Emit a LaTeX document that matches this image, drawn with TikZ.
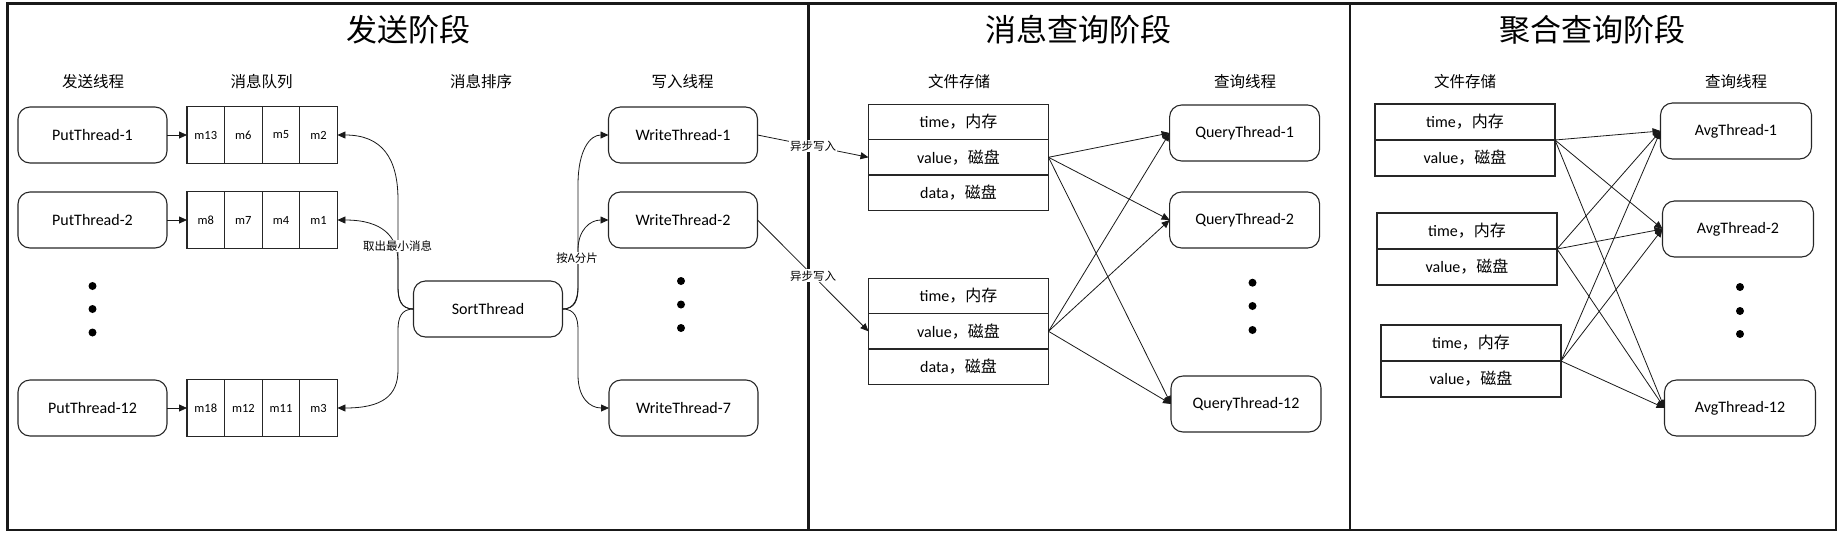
\documentclass[tikz,border=0pt]{standalone}
\usepackage{fontspec}
\setmainfont{Carlito}
\newfontfamily\cjkf{Noto Sans CJK SC}
\newcommand\zh[1]{{\cjkf #1}}
\usetikzlibrary{arrows.meta}
\begin{document}
\begin{tikzpicture}[x=1pt,y=-1pt,
  thread/.style={draw=black!85, line width=1.1pt, rounded corners=12pt, minimum width=149pt, minimum height=56pt, inner sep=0pt, outer sep=0pt, font=\fontsize{16}{19}\selectfont},
  cell/.style={draw=black!85, line width=1.1pt, minimum width=37.6pt, minimum height=56.5pt, inner sep=0pt, outer sep=0pt, font=\fontsize{12.5}{15}\selectfont},
  row/.style={draw=black!85, line width=1.1pt, minimum width=180pt, minimum height=35.3pt, inner sep=0pt, outer sep=0pt, font=\fontsize{16}{19}\selectfont},
  hdr/.style={font=\cjkf\fontsize{15.5}{18}\selectfont, inner sep=0pt},
  ttl/.style={font=\cjkf\fontsize{31}{36}\selectfont, inner sep=0pt},
  lbl/.style={font=\cjkf\fontsize{11.5}{13}\selectfont, fill=white, inner sep=1pt},
  bigdot/.style={circle, fill=black, inner sep=0pt, minimum size=8pt},
  arr/.style={line width=0.8pt, draw=black!90, -{Triangle[length=8pt,width=7pt]}},
  frame/.style={line width=2.4pt, draw=black!90}
]
\useasboundingbox (0,0) rectangle (1845,539);
% frame and dividers
\draw[frame] (7.5,3.5) rectangle (1836,530);
\draw[frame] (808.3,3.5) -- (808.3,530);
\draw[frame] (1350,3.5) -- (1350,530);

% ---------- Panel 1 ----------
\node[ttl] (t1) at (408,30) {发送阶段};
\node[hdr] (h11) at (93,82) {发送线程};
\node[hdr] (h12) at (261.5,82) {消息队列};
\node[hdr] (h13) at (481,82) {消息排序};
\node[hdr] (h14) at (682.5,82) {写入线程};

\node[thread] (p1) at (92.5,135) {PutThread-1};
\node[thread] (p2) at (92.5,220) {PutThread-2};
\node[thread] (p12) at (92.5,408) {PutThread-12};

\node[cell] (qa1) at (205.8,135) {m13};
\node[cell] (qb1) at (243.4,135) {m6};
\node[cell] (qc1) at (281.0,135) {m5};
\node[cell] (qd1) at (318.6,135) {m2};
\node[cell] (qa2) at (205.8,220) {m8};
\node[cell] (qb2) at (243.4,220) {m7};
\node[cell] (qc2) at (281.0,220) {m4};
\node[cell] (qd2) at (318.6,220) {m1};
\node[cell] (qa3) at (205.8,408) {m18};
\node[cell] (qb3) at (243.4,408) {m12};
\node[cell] (qc3) at (281.0,408) {m11};
\node[cell] (qd3) at (318.6,408) {m3};

\node[thread] (sort) at (488,309) {SortThread};

\node[thread] (w1) at (683,135) {WriteThread-1};
\node[thread] (w2) at (683,220) {WriteThread-2};
\node[thread] (w7) at (683.5,408) {WriteThread-7};

\node[bigdot] (d11) at (92.5,286) {};
\node[bigdot] (d12) at (92.5,309) {};
\node[bigdot] (d13) at (92.5,332.5) {};
\node[bigdot] (d21) at (681,281) {};
\node[bigdot] (d22) at (681,304.5) {};
\node[bigdot] (d23) at (681,328) {};

\draw[arr] (p1.east) -- (qa1.west);
\draw[arr] (p2.east) -- (qa2.west);
\draw[arr] (p12.east) -- (qa3.west);

\draw[arr] (sort.west) .. controls (400,309) and (398,298) .. (398,285) -- (398,200) .. controls (398,158) and (382,135) .. (qd1.east);
\draw[arr] (sort.west) .. controls (401,309) and (398,300) .. (398,288) -- (398,262) .. controls (398,236) and (382,220) .. (qd2.east);
\draw[arr] (sort.west) .. controls (401,309) and (398,318) .. (398,330) -- (398,370) .. controls (398,396) and (382,408) .. (qd3.east);
\node[lbl] (lb1) at (397.5,246) {取出最小消息};

\draw[arr] (sort.east) .. controls (575,309) and (578,298) .. (578,285) -- (578,185) .. controls (578,150) and (590,135) .. (w1.west);
\draw[arr] (sort.east) .. controls (575,309) and (578,300) .. (578,288) -- (578,250) .. controls (578,230) and (590,220) .. (w2.west);
\draw[arr] (sort.east) .. controls (575,309) and (578,318) .. (578,330) -- (578,375) .. controls (578,398) and (590,408) .. (w7.west);
\node[lbl] (lb2) at (577,258) {按A分片};

% ---------- Panel 2 ----------
\node[ttl] (t2) at (1078.5,30) {消息查询阶段};
\node[hdr] (h21) at (959,82) {文件存储};
\node[hdr] (h22) at (1245,82) {查询线程};

\node[row] (s1a) at (958.5,122) {time\zh{，内存}};
\node[row] (s1b) at (958.5,157.3) {value\zh{，磁盘}};
\node[row] (s1c) at (958.5,192.6) {data\zh{，磁盘}};
\node[row] (s2a) at (958.5,296) {time\zh{，内存}};
\node[row] (s2b) at (958.5,331.3) {value\zh{，磁盘}};
\node[row] (s2c) at (958.5,366.6) {data\zh{，磁盘}};

\node[thread, minimum width=150pt] (qt1) at (1244.6,133) {QueryThread-1};
\node[thread, minimum width=150pt] (qt2) at (1244.6,220) {QueryThread-2};
\node[thread, minimum width=150pt] (qt12) at (1246,404) {QueryThread-12};

\node[bigdot] (d31) at (1252.5,282.7) {};
\node[bigdot] (d32) at (1252.5,306) {};
\node[bigdot] (d33) at (1252.5,330) {};

\draw[arr] (w1.east) -- node[lbl] {异步写入} (s1b.west);
\draw[arr] (w2.east) -- node[lbl] {异步写入} (s2b.west);

\foreach \s in {s1b,s2b}{
  \foreach \q in {qt1,qt2,qt12}{
    \draw[arr] (\s.east) -- (\q.west);
  }
}

% ---------- Panel 3 ----------
\node[ttl] (t3) at (1592,30) {聚合查询阶段};
\node[hdr] (h31) at (1465,82) {文件存储};
\node[hdr] (h32) at (1736,82) {查询线程};

\node[row, minimum height=36pt] (aA1) at (1465,122) {time\zh{，内存}};
\node[row, minimum height=36pt] (aA2) at (1465,158) {value\zh{，磁盘}};
\node[row, minimum height=36pt] (aB1) at (1467,231) {time\zh{，内存}};
\node[row, minimum height=36pt] (aB2) at (1467,267) {value\zh{，磁盘}};
\node[row, minimum height=36pt] (aC1) at (1471,343) {time\zh{，内存}};
\node[row, minimum height=36pt] (aC2) at (1471,379) {value\zh{，磁盘}};

\node[thread, minimum width=151pt] (av1) at (1736,131) {AvgThread-1};
\node[thread, minimum width=151pt] (av2) at (1738,229) {AvgThread-2};
\node[thread, minimum width=151pt] (av12) at (1740,408) {AvgThread-12};

\node[bigdot] (d41) at (1740,287) {};
\node[bigdot] (d42) at (1740,311) {};
\node[bigdot] (d43) at (1740,334) {};

\foreach \s in {aA1,aB1,aC1}{
  \foreach \q in {av1,av2,av12}{
    \draw[arr] (\s.south east) -- (\q.west);
  }
}
\end{tikzpicture}
\end{document}
